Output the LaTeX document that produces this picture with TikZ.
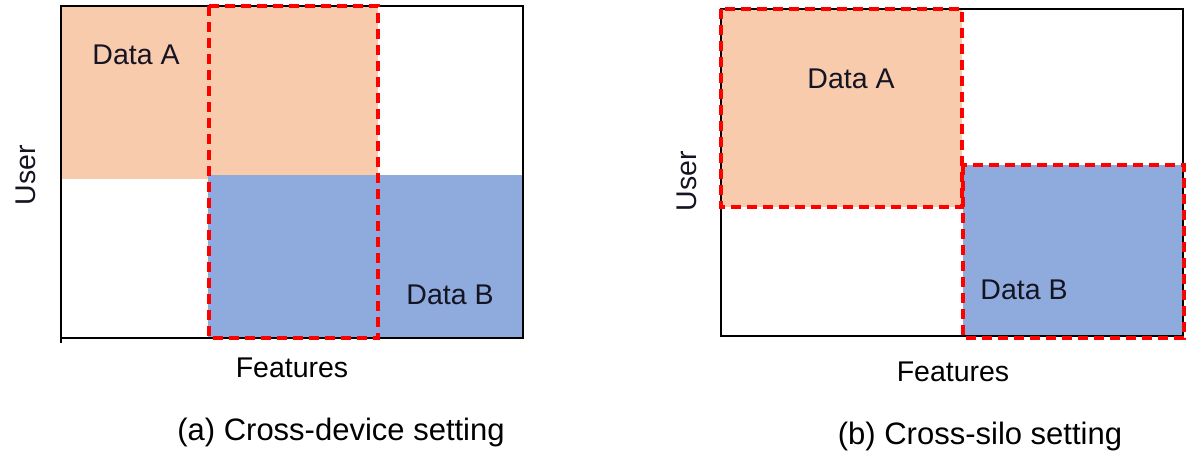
\documentclass[tikz,border=0pt]{standalone}
\usepackage{fontspec}
\setmainfont{Liberation Sans}
\usepackage{xcolor}
\usepackage{tikz}
\usetikzlibrary{calc}
\definecolor{dataorange}{RGB}{248,203,173}
\definecolor{datablue}{RGB}{143,170,220}
\definecolor{datatext}{RGB}{20,20,35}
\tikzset{
  frame/.style={black, line width=1.5pt},
  cutbox/.style={red, line width=3.4pt, dash pattern=on 10pt off 6pt},
  lbl/.style={font=\fontsize{28.5}{34}\selectfont, text=datatext, inner sep=0pt},
  captext/.style={font=\fontsize{31}{36}\selectfont, inner sep=0pt}
}

\begin{document}
\begin{tikzpicture} [x=1pt, y=-1pt]
\useasboundingbox (0,0) rectangle (1187,470);
% (a) cross-device
\fill[dataorange] (61,6) rectangle (378,179);
\fill[datablue] (208,175) rectangle (523,338);
\draw[frame] (61,6) rectangle (523,338);
\draw[frame] (61,338) -- (61,343);
\draw[cutbox] (209,6) rectangle (378,338);
\node[lbl] (dataA1) at (136,55) {Data A};
\node[lbl] (dataB1) at (450,295) {Data B};
\node[lbl, rotate=90] (user1) at (26,175) {User};
\node[lbl, text=black] (feat1) at (292,368) {Features};
\node[captext] (capA) at (341,432) {(a) Cross-device setting};
% (b) cross-silo
\fill[dataorange] (721,9) rectangle (962,207);
\fill[datablue] (963,165) rectangle (1184,337);
\draw[frame] (721,9) rectangle (1183,336);
\draw[cutbox] (721,9) rectangle (962,207);
\draw[cutbox] (963,165) rectangle (1184,338);
\node[lbl] (dataA2) at (851,79) {Data A};
\node[lbl] (dataB2) at (1024,290) {Data B};
\node[lbl, rotate=90] (user2) at (687,181) {User};
\node[lbl, text=black] (feat2) at (953,372) {Features};
\node[captext] (capB) at (980,436) {(b) Cross-silo setting};
\end{tikzpicture}
\end{document}
